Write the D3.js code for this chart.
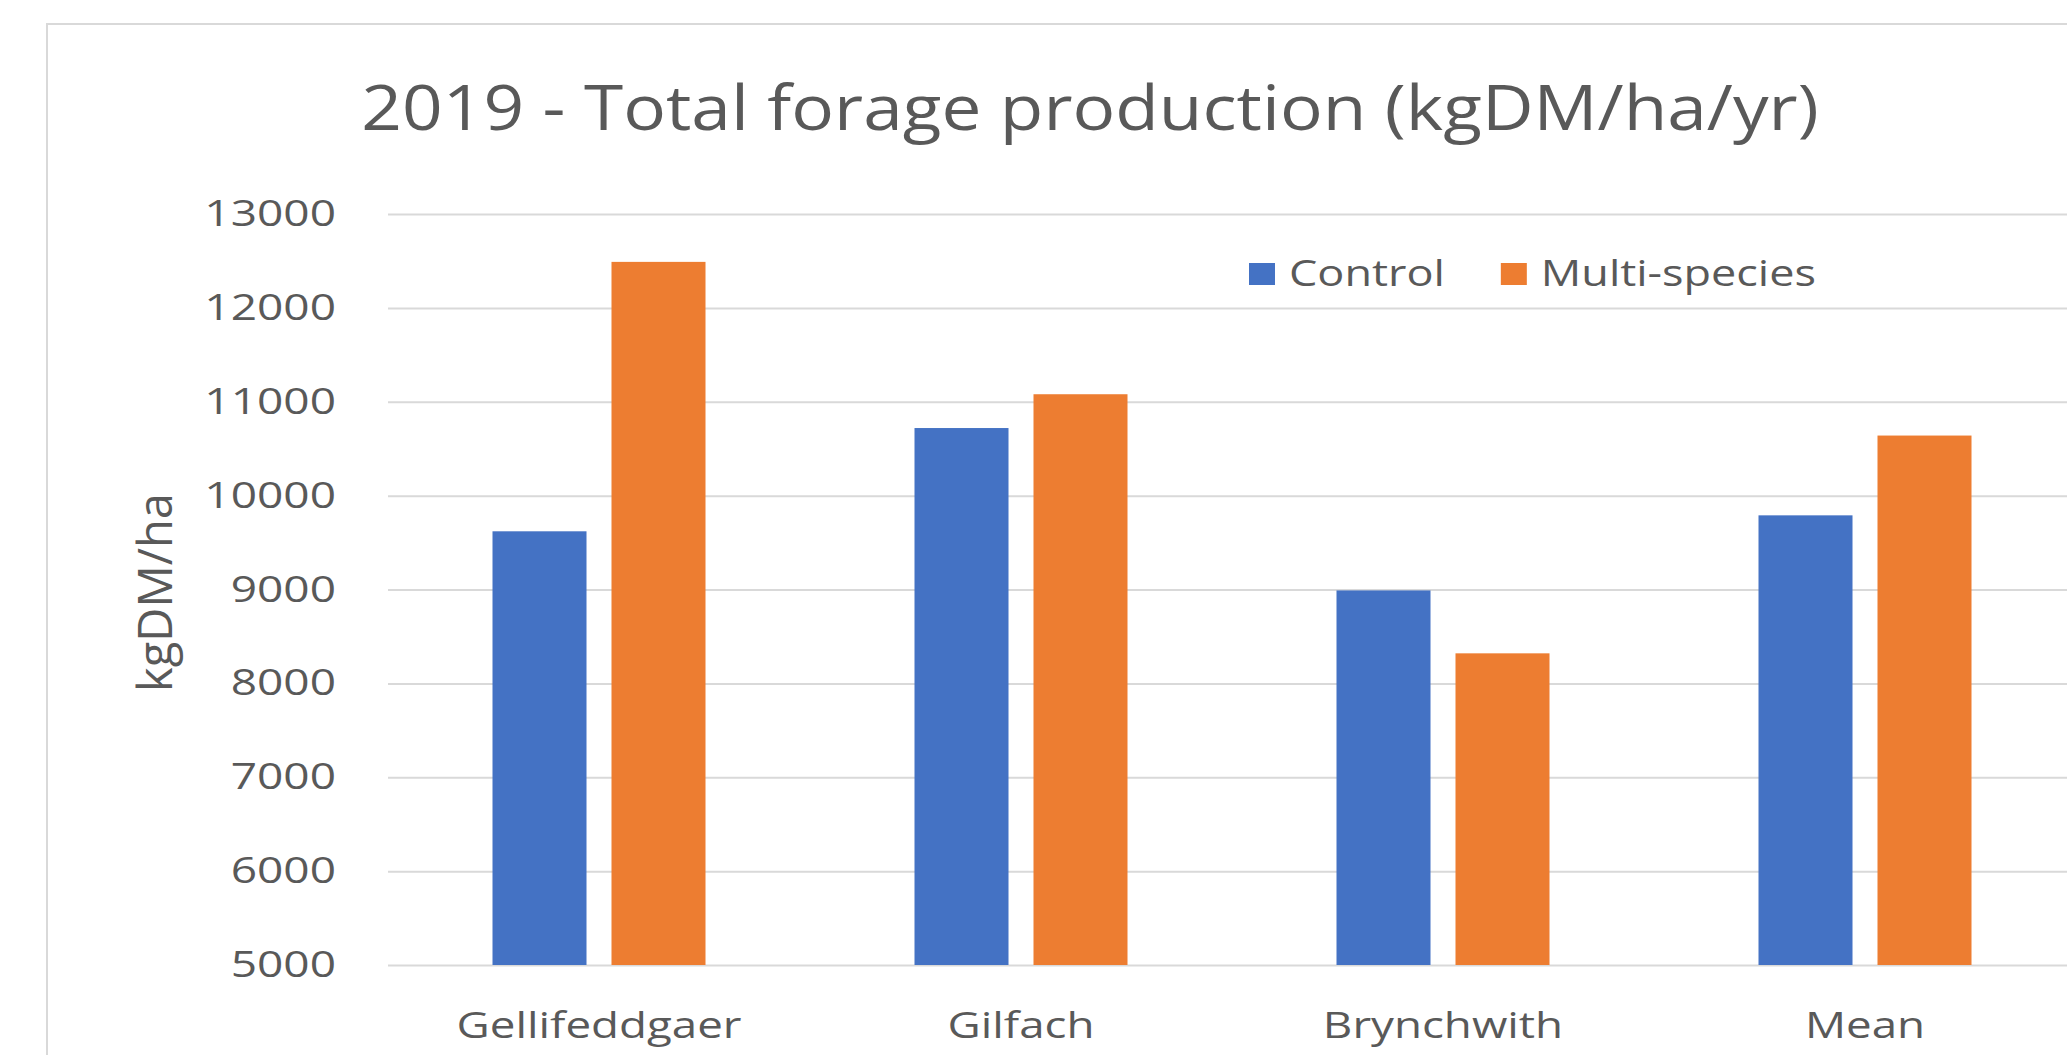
<!DOCTYPE html>
<html>
<head>
<meta charset="utf-8">
<script src="https://cdn.jsdelivr.net/npm/d3@7"></script>
<style>
  body { margin: 0; background: #fff; }
  svg { display: block; font-family: "Open Sans", sans-serif; }
</style>
</head>
<body>
<div id="chart"></div>
<script>
// data
const categories = ['Gellifeddgaer', 'Gilfach', 'Brynchwith', 'Mean'];
const seriesNames = ['Control', 'Multi-species'];
const control = [9620, 10720, 8990, 9790];
const multiSpecies = [12490, 11080, 8320, 10640];
const yTicks = [5000, 6000, 7000, 8000, 9000, 10000, 11000, 12000, 13000];
const colors = ['#4472C4', '#ED7D31'];

const W = 2067, H = 1055;
const textColor = '#595959';
const gridColor = '#d9d9d9';

// plot area (runs off the right edge like the original)
const plot = { left: 388, right: 2076, top: 214, bottom: 965 };

const svg = d3.select('#chart').append('svg')
  .attr('width', W).attr('height', H);

svg.append('rect').attr('width', W).attr('height', H).attr('fill', '#fff');

// chart border (only top and left are visible)
svg.append('path')
  .attr('d', `M47,${H + 5} V24 H${W + 5}`)
  .attr('fill', 'none')
  .attr('stroke', gridColor)
  .attr('stroke-width', 2);

// title
svg.append('text')
  .attr('transform', 'translate(1090,130) scale(1.13,1)')
  .attr('text-anchor', 'middle')
  .attr('fill', textColor)
  .style('font-size', '63px')
  .text('2019 - Total forage production (kgDM/ha/yr)');

const y = d3.scaleLinear().domain([5000, 13000]).range([plot.bottom, plot.top]);
const x0 = d3.scaleBand().domain(categories).range([plot.left, plot.right]);
const x1 = d3.scaleBand().domain(seriesNames).range([0, 213]).paddingInner(0.21);

// gridlines
svg.append('g')
  .attr('transform', `translate(${plot.left},0)`)
  .call(d3.axisLeft(y).tickValues(yTicks).tickSize(-(plot.right - plot.left)).tickFormat(''))
  .call(g => g.select('.domain').remove())
  .call(g => g.selectAll('line').attr('stroke', gridColor).attr('stroke-width', 2));

// y tick labels
svg.append('g')
  .attr('transform', 'translate(336,0)')
  .call(d3.axisLeft(y).tickValues(yTicks).tickSize(0).tickPadding(0).tickFormat(d3.format('d')))
  .call(g => g.select('.domain').remove())
  .call(g => g.selectAll('text')
    .attr('fill', textColor)
    .attr('transform', 'scale(1.28,1)')
    .style('font-size', '36px')
    .style('font-family', '"Open Sans", sans-serif'));

// y axis title
svg.append('text')
  .attr('transform', `translate(172,${(plot.top + plot.bottom) / 2 + 3}) rotate(-90)`)
  .attr('text-anchor', 'middle')
  .attr('fill', textColor)
  .style('font-size', '47px')
  .text('kgDM/ha');

// bars
const rows = categories.map((c, i) => ({ cat: c, values: [control[i], multiSpecies[i]] }));
const groupOffset = (x0.bandwidth() - 213) / 2;

svg.append('g').selectAll('g')
  .data(rows)
  .join('g')
  .attr('transform', d => `translate(${x0(d.cat) + groupOffset},0)`)
  .selectAll('rect')
  .data(d => d.values.map((v, j) => ({ name: seriesNames[j], value: v, idx: j })))
  .join('rect')
  .attr('x', d => x1(d.name))
  .attr('width', x1.bandwidth())
  .attr('y', d => y(d.value))
  .attr('height', d => y(5000) - y(d.value))
  .attr('fill', d => colors[d.idx]);

// x axis labels
svg.append('g')
  .attr('transform', `translate(0,${plot.bottom})`)
  .call(d3.axisBottom(x0).tickSize(0).tickPadding(47))
  .call(g => g.select('.domain').remove())
  .call(g => g.selectAll('text')
    .attr('fill', textColor)
    .attr('transform', 'scale(1.27,1)')
    .style('font-size', '36px')
    .style('font-family', '"Open Sans", sans-serif'));

// legend
const legend = svg.append('g').attr('transform', 'translate(1249,263)');
let lx = 0;
seriesNames.forEach((name, i) => {
  const item = legend.append('g').attr('transform', `translate(${lx},0)`);
  item.append('rect').attr('width', 26).attr('height', 22).attr('fill', colors[i]);
  const t = item.append('text')
    .attr('transform', 'translate(40,23) scale(1.25,1)')
    .attr('fill', textColor)
    .style('font-size', '36px')
    .text(name);
  lx += 40 + t.node().getComputedTextLength() * 1.25 + 56;
});
</script>
</body>
</html>
